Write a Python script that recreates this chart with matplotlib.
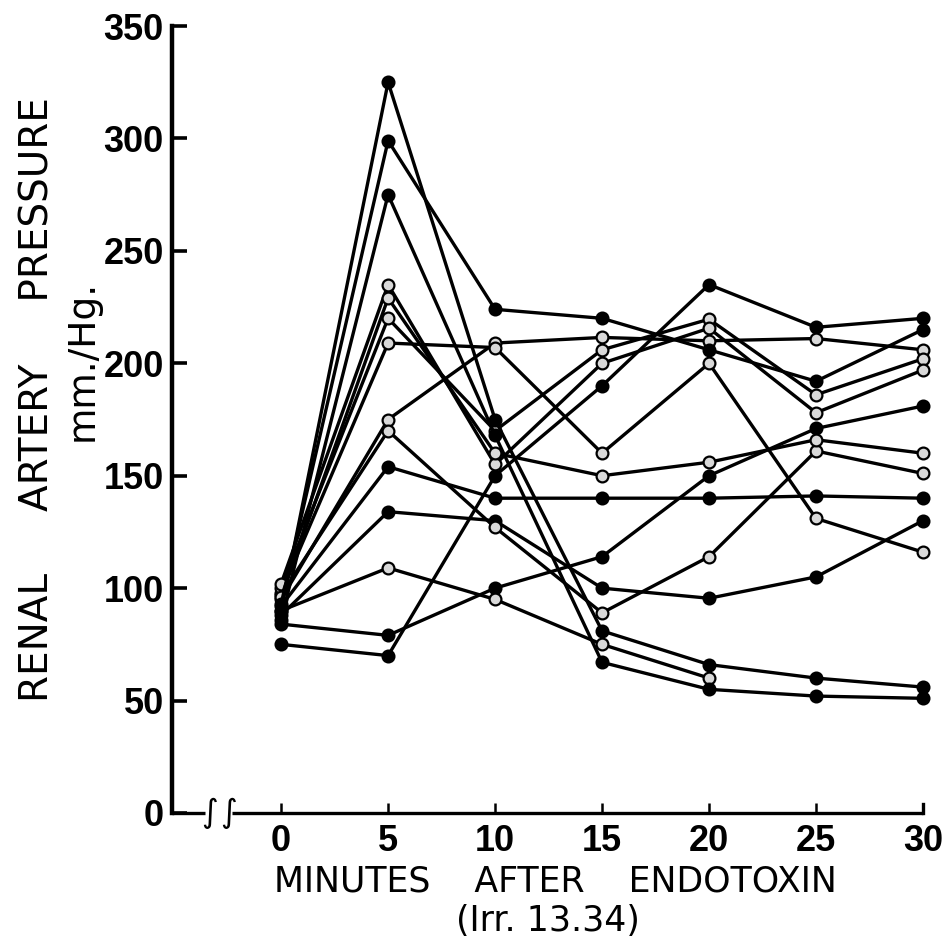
import matplotlib
matplotlib.use('Agg')
import matplotlib.pyplot as plt
import numpy as np

# ---------------- data ----------------
minutes = [0, 5, 10, 15, 20, 25, 30]
y_ticks = [0, 50, 100, 150, 200, 250, 300, 350]

dog01 = [75, 70, 150, 190, 235, 216, 220]
dog02 = [84, 79, 100, 114, 150, 171, 181]
dog03 = [90, 109, 95, 75, 60, np.nan, np.nan]
dog04 = [88, 134, 130, 100, 95.5, 105, 130]
dog05 = [92, 154, 140, 140, 140, 141, 140]
dog06 = [95, 175, 209, 211.5, 210, 211, 206]
dog07 = [97, 170, 127, 89, 114, 161, 151]
dog08 = [98, 209, 207, 160, 200, 131, 116]
dog09 = [100, 220, 170, 206, 219.6, 186, 202]
dog10 = [102, 235, 155, 200, 215.6, 178, 197]
dog11 = [96, 229, 160, 150, 156, 166, 160]
dog12 = [93, 299, 224, 220, 206, 192, 215]
dog13 = [90, 325, 175, 81, 66, 60, 56]
dog14 = [86, 275, 168, 67, 55, 52, 51]

all_dogs = [dog01, dog02, dog03, dog04, dog05, dog06, dog07,
            dog08, dog09, dog10, dog11, dog12, dog13, dog14]
# marker face style per series (solid vs. open/stippled in the print)
open_marker = [False, False, True, False, False, True, True,
               True, True, True, True, False, False, False]

# ---------------- figure ----------------
W, H = 946, 951
fig = plt.figure(figsize=(W / 100, H / 100), dpi=100)
fig.patch.set_facecolor('white')

x_left_px, x_right_px = 172, 923
y_bot_px, y_top_px = 813, 26
ax = fig.add_axes([x_left_px / W, (H - y_bot_px) / H,
                   (x_right_px - x_left_px) / W, (y_bot_px - y_top_px) / H])
ax.set_xlim(-5.1, 30)
ax.set_ylim(0, 350)

for vals, op in zip(all_dogs, open_marker):
    ax.plot(minutes, vals, color='black', lw=2.4,
            marker='o', markersize=8.5,
            markerfacecolor=('#d9d9d9' if op else 'black'),
            markeredgecolor='black', markeredgewidth=1.6,
            clip_on=False, zorder=3)

# spines
for s in ['top', 'right', 'bottom']:
    ax.spines[s].set_visible(False)
ax.spines['left'].set_linewidth(3.2)

# bottom axis drawn with a break
ax.plot([-5.1, -3.55], [0, 0], color='black', lw=2.4, clip_on=False,
        solid_capstyle='butt')
ax.plot([-2.3, 30], [0, 0], color='black', lw=2.4, clip_on=False,
        solid_capstyle='butt')
ax.plot([30, 30], [0, 4], color='black', lw=2.4, clip_on=False)
for bx in (-3.35, -2.45):
    ax.text(bx, 0, '\u222b', fontsize=23, ha='center', va='center',
            family='DejaVu Sans', fontstyle='italic', clip_on=False)

tick_font = dict(family=['Liberation Sans Narrow', 'Liberation Sans', 'DejaVu Sans'],
                 weight='bold', size=26)

ax.set_yticks(y_ticks)
ax.set_yticklabels([str(v) for v in y_ticks], **tick_font)
ax.set_xticks(minutes)
ax.set_xticklabels([str(v) for v in minutes], **tick_font)
ax.tick_params(axis='y', direction='in', length=11, width=2.6, pad=6)
ax.tick_params(axis='x', direction='in', length=7, width=1.8, pad=8,
               bottom=True)

# axis titles
fig.text(38 / W, 1 - 400 / H, 'RENAL     ARTERY     PRESSURE', rotation=90,
         ha='center', va='center', family='DejaVu Sans', size=28)
fig.text(83 / W, 1 - 360 / H, 'mm./Hg.', rotation=90,
         ha='center', va='center', family='DejaVu Sans', size=27)
fig.text(555 / W, 1 - 882 / H, 'MINUTES    AFTER    ENDOTOXIN',
         ha='center', va='center', family='DejaVu Sans', size=25)
fig.text(548 / W, 1 - 921 / H, '(Irr. 13.34)',
         ha='center', va='center', family='DejaVu Sans', size=25)

fig.savefig('out.png', dpi=100, facecolor='white')
